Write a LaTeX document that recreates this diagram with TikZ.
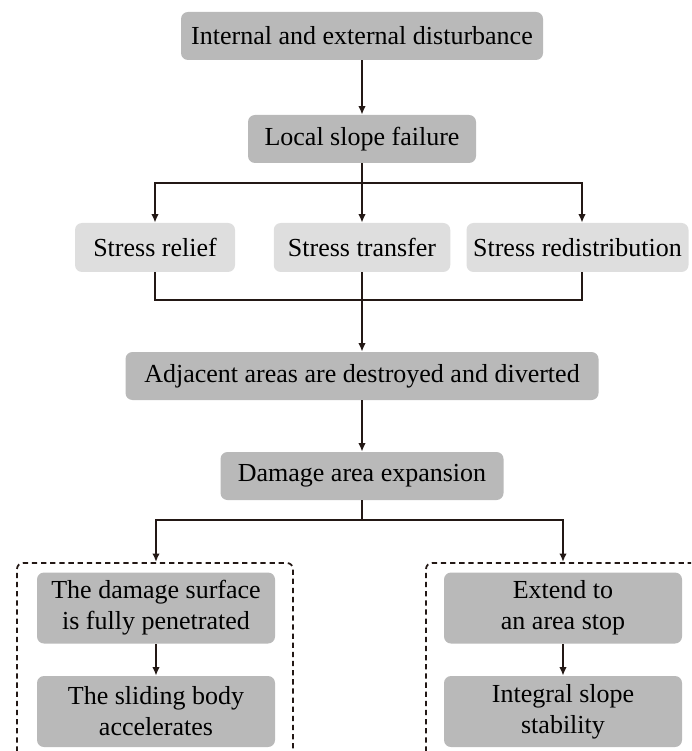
\documentclass[tikz,border=0pt]{standalone}
\usepackage{fontspec}
\setmainfont{Liberation Serif}
\usepackage{tikz}
\usetikzlibrary{arrows.meta,positioning,calc}
\usepackage{xcolor}
\definecolor{boxdark}{HTML}{B9B9B9}
\definecolor{boxlight}{HTML}{DEDEDE}
\definecolor{inkline}{HTML}{231815}

\begin{document}
\begin{tikzpicture}[
    font=\fontsize{14.8}{17.6}\selectfont,
    every node/.style={align=center, inner sep=2pt, rounded corners=0.14cm},
    darkbox/.style={fill=boxdark, minimum height=0.96cm},
    lightbox/.style={fill=boxlight, minimum height=0.98cm},
    tallbox/.style={fill=boxdark, minimum width=4.76cm, minimum height=1.42cm},
    link/.style={draw=inkline, line width=1.1pt},
    arr/.style={link, -{Latex[length=0.17cm, width=0.15cm]}},
    group/.style={draw=inkline, line width=1pt, dash pattern=on 3pt off 2.2pt, rounded corners=0.12cm}
  ]
    \useasboundingbox (0,0) rectangle (13.82,-15.02);
    \clip (0,0) rectangle (13.82,-15.02);
    % main chain
    \node[darkbox, minimum width=7.24cm] (dist) at (7.24,-0.72) {Internal and external disturbance};
    \node[darkbox, minimum width=4.56cm] (lsf) at (7.24,-2.78) {Local slope failure};
    \node[lightbox, minimum width=3.20cm] (relief) at (3.10,-4.95) {Stress relief};
    \node[lightbox, minimum width=3.53cm] (transfer) at (7.24,-4.95) {Stress transfer};
    \node[lightbox, minimum width=4.44cm] (redist) at (11.55,-4.95) {Stress redistribution};
    \node[darkbox, minimum width=9.46cm] (adj) at (7.24,-7.52) {Adjacent areas are destroyed and diverted};
    \node[darkbox, minimum width=5.66cm] (dae) at (7.24,-9.52) {Damage area expansion};
    % two outcomes
    \draw[group] (0.34,-15.4) |- (5.86,-11.26) -- (5.86,-15.4);
    \draw[group] (8.52,-15.4) |- (14.3,-11.26);
    \node[tallbox] (pen) at (3.12,-12.16) {The damage surface\\is fully penetrated};
    \node[tallbox] (acc) at (3.12,-14.23) {The sliding body\\accelerates};
    \node[tallbox] (stop) at (11.26,-12.16) {Extend to\\an area stop};
    \node[tallbox] (stab) at (11.26,-14.23) {Integral slope\\stability};
    \coordinate (split) at (7.24,-3.66);
    \coordinate (merge) at (7.24,-6.00);
    \coordinate (fork) at (7.24,-10.40);
    \coordinate (lgrp) at (3.12,-11.24);
    \coordinate (rgrp) at (11.26,-11.24);
    % connectors
    \draw[arr] (dist) -- (lsf);
    \draw[link] (lsf.south) -- (split);
    \draw[arr] (split) -| (relief.north);
    \draw[arr] (split) -- (transfer.north);
    \draw[arr] (split) -| ([xshift=0.09cm]redist.north);
    \draw[link] (relief.south) |- (merge);
    \draw[link] ([xshift=0.09cm]redist.south) |- (merge);
    \draw[arr] (transfer.south) -- (adj.north);
    \draw[arr] (adj) -- (dae);
    \draw[link] (dae.south) -- (fork);
    \draw[arr] (fork) -| (lgrp);
    \draw[arr] (fork) -| (rgrp);
    \draw[arr] (pen) -- (acc);
    \draw[arr] (stop) -- (stab);
  \end{tikzpicture}
\end{document}
